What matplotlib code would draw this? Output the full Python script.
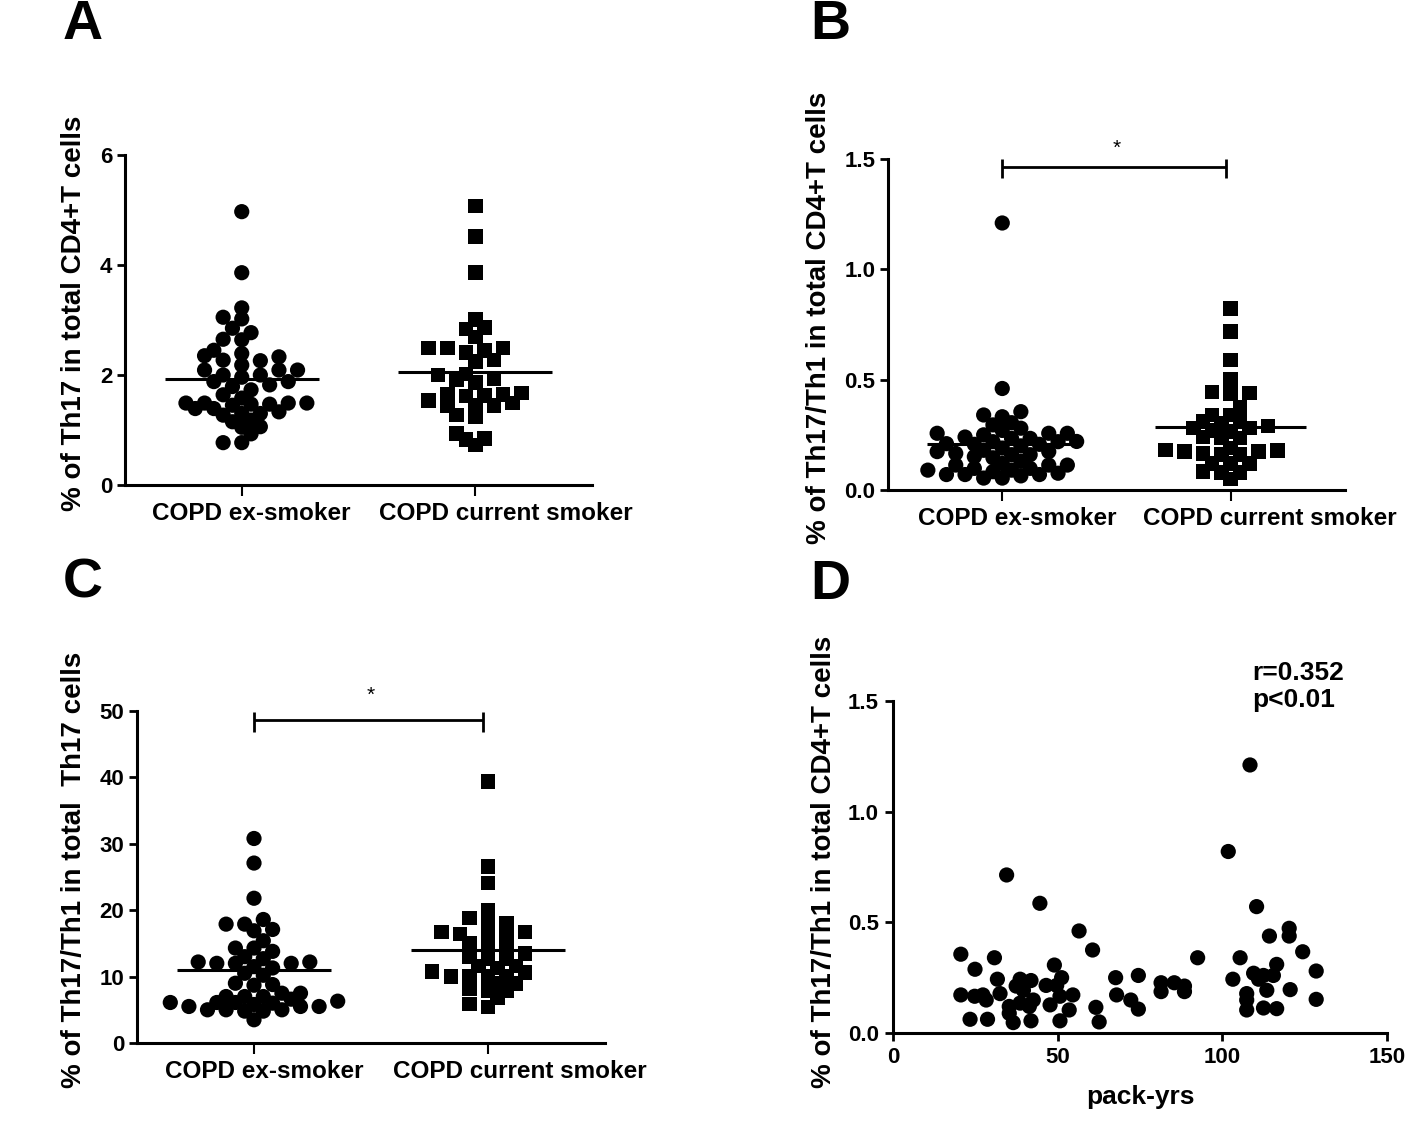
import numpy as np
import matplotlib
matplotlib.use("Agg")
from matplotlib import pyplot as plt

plt.rcParams['font.family'] = ['Liberation Sans', 'DejaVu Sans']
plt.rcParams['font.weight'] = 'bold'

groups = ["COPD ex-smoker", "COPD current smoker"]

# A: % of Th17 in total CD4+T cells
a_ex = [4.97, 3.86, 3.22, 3.05, 3.02, 2.85, 2.77, 2.64, 2.65, 2.45, 2.39, 2.33, 2.35,
        2.27, 2.26, 2.18, 2.09, 2.09, 2.09, 2.00, 2.00, 1.96, 1.88, 1.88, 1.82, 1.79,
        1.73, 1.64, 1.58, 1.49, 1.49, 1.47, 1.49, 1.47, 1.49, 1.45, 1.39, 1.39, 1.33,
        1.30, 1.27, 1.30, 1.18, 1.15, 1.06, 1.05, 0.93, 0.77, 0.77]
a_cur = [5.07, 4.52, 3.86, 3.01, 2.86, 2.84, 2.69, 2.49, 2.27, 2.49, 2.49, 2.41, 2.45,
         2.25, 2.00, 2.02, 1.94, 1.92, 1.86, 1.67, 1.45, 1.65, 1.62, 1.63, 1.45, 1.65,
         1.45, 1.49, 1.54, 1.27, 1.24, 0.94, 0.85, 0.83, 0.73]
a_center = [1.93, 2.06]

# B: % of Th17/Th1 in total CD4+T cells
b_ex = [1.21, 0.46, 0.355, 0.332, 0.34, 0.305, 0.295, 0.27, 0.28, 0.257, 0.25, 0.257,
        0.257, 0.234, 0.24, 0.234, 0.219, 0.219, 0.21, 0.207, 0.207, 0.174, 0.18, 0.174,
        0.166, 0.16, 0.16, 0.151, 0.146, 0.12, 0.113, 0.113, 0.113, 0.098, 0.09, 0.098,
        0.09, 0.083, 0.076, 0.07, 0.07, 0.07, 0.064, 0.054, 0.054, 0.19, 0.13, 0.20, 0.22]
b_cur = [0.823, 0.717, 0.589, 0.445, 0.438, 0.50, 0.44, 0.377, 0.34, 0.34, 0.302, 0.31,
         0.31, 0.29, 0.28, 0.28, 0.27, 0.265, 0.24, 0.235, 0.235, 0.181, 0.19, 0.18,
         0.175, 0.175, 0.16, 0.165, 0.16, 0.12, 0.08, 0.08, 0.085, 0.05, 0.12, 0.12]
b_center = [0.207, 0.285]

# C: % of Th17/Th1 in total Th17 cells
c_ex = [30.8, 27.1, 21.8, 18.6, 17.9, 17.9, 16.9, 17.1, 15.4, 14.3, 14.3, 13.8, 13.0,
        12.7, 12.2, 12.0, 12.2, 12.0, 12.0, 11.5, 11.3, 10.5, 10.2, 9.0, 8.7, 8.8, 7.5,
        7.5, 7.0, 7.0, 7.0, 6.6, 6.3, 6.1, 6.1, 6.1, 5.5, 5.5, 5.5, 5.0, 5.0, 5.0, 4.8,
        4.8, 3.5, 6.0, 5.8]
c_cur = [39.4, 26.6, 24.1, 20.0, 18.8, 18.0, 18.1, 16.7, 16.4, 16.4, 16.3, 16.7, 15.0,
         14.7, 14.4, 13.5, 13.0, 12.7, 12.7, 11.6, 11.6, 11.3, 10.6, 10.8, 10.0, 10.0,
         10.0, 10.0, 9.0, 9.0, 8.2, 7.8, 7.8, 6.8, 5.9, 5.4]
c_center = [11.0, 14.0]

# D: Th17/Th1 vs pack-years
d_pack = [108.4, 101.8, 34.5, 44.6, 110.4, 56.5, 120.3, 120.3, 114.3, 60.6, 124.4, 20.6,
          30.8, 92.5, 105.4, 24.9, 49.0, 116.5, 128.5, 31.7, 38.6, 41.9, 51.2, 67.6,
          74.5, 103.2, 109.5, 112.5, 115.5, 111.0, 81.4, 85.4, 88.5, 46.5, 37.4, 49.7,
          81.4, 88.5, 20.6, 24.8, 27.3, 28.3, 32.5, 39.6, 54.6, 50.7, 67.9, 107.4,
          113.5, 120.6, 128.5, 72.2, 42.6, 47.7, 53.5, 61.6, 74.5, 107.4, 107.4, 112.5,
          116.5, 35.3, 35.3, 23.4, 28.7, 36.5, 41.9, 50.7, 62.6, 41.4, 38.6]
d_ratio = [1.211, 0.82, 0.714, 0.586, 0.571, 0.461, 0.473, 0.438, 0.438, 0.375, 0.367,
           0.356, 0.34, 0.34, 0.34, 0.288, 0.307, 0.31, 0.28, 0.243, 0.243, 0.237, 0.25,
           0.25, 0.26, 0.243, 0.27, 0.26, 0.26, 0.243, 0.227, 0.227, 0.212, 0.215, 0.212,
           0.215, 0.187, 0.187, 0.172, 0.166, 0.172, 0.149, 0.178, 0.193, 0.172, 0.166,
           0.172, 0.178, 0.193, 0.196, 0.152, 0.149, 0.149, 0.127, 0.104, 0.116, 0.108,
           0.149, 0.104, 0.113, 0.11, 0.089, 0.12, 0.062, 0.062, 0.047, 0.055, 0.055,
           0.05, 0.12, 0.135]


def swarm(values, ylim, h_px, px_per_x, step=9.3):
    # column-scatter layout: half-symbol columns, points may touch diagonally
    vals = np.asarray(values, float)
    ypx = (vals - ylim[0]) / (ylim[1] - ylim[0]) * h_px
    cands = [0.0]
    for k in range(1, 40):
        cands += [k * step, -k * step]
    placed = []
    offs = np.zeros(len(vals))
    flip = 1

    def blocked(c, y):
        for px, py in placed:
            dx = abs(c - px)
            if dx < 17 and abs(y - py) < 10.5 - 0.55 * dx:
                return True
        return False

    for i in np.argsort(ypx):
        for c in cands:
            c = c * flip
            if not blocked(c, ypx[i]):
                break
        flip = -flip
        placed.append((c, ypx[i]))
        offs[i] = c / px_per_x
    return offs


W, H = 1418, 1121
fig = plt.figure(figsize=(W / 100, H / 100), dpi=100)


def column_panel(rect, ex, cur, center, ylim, yticks, ytlabels, ylabel, lab_xy,
                 lab_shift, bracket=None):
    ax = fig.add_axes(rect)
    h_px = rect[3] * H
    px_per_x = rect[2] * W / 2.0
    for pos, vals, mk, sz in [(1, ex, 'o', 120), (2, cur, 's', 110)]:
        offs = swarm(vals, ylim, h_px, px_per_x)
        ax.scatter(pos + offs, vals, marker=mk, s=sz, color='black', edgecolors='none',
                   clip_on=False, zorder=3)
    for pos, c in zip([1, 2], center):
        ax.hlines(c, pos - 0.33, pos + 0.33, color='black', lw=2.2, zorder=4)
    ax.set_xlim(0.5, 2.5)
    ax.set_ylim(*ylim)
    ax.set_xticks([1, 2])
    ax.set_xticklabels([])
    # category names sit a little right of their ticks in the original
    for pos, name, dx in zip([1, 2], groups, lab_shift):
        ax.annotate(name, xy=(pos, 0), xycoords=('data', 'axes fraction'),
                    xytext=(dx * 0.72, -20.5), textcoords='offset points',
                    ha='center', va='center', fontsize=17.5, fontweight='bold')
    ax.set_yticks(yticks)
    ax.set_yticklabels(ytlabels, fontsize=16, fontweight='bold')
    ax.tick_params(axis='x', length=8, width=1.5, pad=4)
    ax.tick_params(axis='y', length=6, width=2, pad=3)
    for s in ['top', 'right']:
        ax.spines[s].set_visible(False)
    for s in ['left', 'bottom']:
        ax.spines[s].set_linewidth(2.2)
    ax.set_ylabel(ylabel, fontsize=20, fontweight='bold')
    ax.yaxis.set_label_coords(*lab_xy)
    if bracket is not None:
        yb, cap, star = bracket
        ax.hlines(yb, 1, 1.98, color='black', lw=2, clip_on=False)
        ax.vlines([1, 1.98], yb - cap, yb + cap * 0.7, color='black', lw=2, clip_on=False)
        ax.text(1.5, star, '*', ha='center', va='center', fontsize=15, fontweight='normal')
    return ax


column_panel([125 / W, 1 - 485 / H, 467 / W, 330 / H], a_ex, a_cur, a_center,
             (0, 6), [0, 2, 4, 6], ['0', '2', '4', '6'],
             '% of Th17 in total CD4+T cells', (-0.081, 0.52), (9, 31))

column_panel([888 / W, 1 - 490 / H, 457 / W, 331 / H], b_ex, b_cur, b_center,
             (0, 1.5), [0, 0.5, 1.0, 1.5], ['0.0', '0.5', '1.0', '1.5'],
             '% of Th17/Th1 in total CD4+T cells', (-0.123, 0.52), (15, 39),
             bracket=(1.464, 0.05, 1.55))

column_panel([137 / W, 1 - 1043 / H, 468 / W, 332 / H], c_ex, c_cur, c_center,
             (0, 50), [0, 10, 20, 30, 40, 50], ['0', '10', '20', '30', '40', '50'],
             '% of Th17/Th1 in total  Th17 cells', (-0.107, 0.52), (10, 32),
             bracket=(48.6, 1.8, 52.3))

# D: scatter vs pack-years
axd = fig.add_axes([893 / W, 1 - 1033 / H, 494 / W, 332 / H])
axd.scatter(d_pack, d_ratio, marker='o', s=120, color='black', edgecolors='none',
            clip_on=False, zorder=3)
axd.set_xlim(0, 150)
axd.set_ylim(0, 1.5)
axd.set_xticks([0, 50, 100, 150])
axd.set_xticklabels(['0', '50', '100', '150'], fontsize=16, fontweight='bold')
axd.set_yticks([0, 0.5, 1.0, 1.5])
axd.set_yticklabels(['0.0', '0.5', '1.0', '1.5'], fontsize=16, fontweight='bold')
axd.tick_params(axis='both', length=6, width=2, pad=4)
for s in ['top', 'right']:
    axd.spines[s].set_visible(False)
for s in ['left', 'bottom']:
    axd.spines[s].set_linewidth(2.2)
axd.set_xlabel('pack-yrs', fontsize=19, fontweight='bold', labelpad=12)
axd.set_ylabel('% of Th17/Th1 in total CD4+T cells', fontsize=20, fontweight='bold')
axd.yaxis.set_label_coords(-0.113, 0.515)
axd.text(109, 1.565, 'r=0.352\np<0.01', ha='left', va='center', fontsize=19,
         fontweight='bold', linespacing=1.15, clip_on=False)

for letter, x, y in [('A', 83, 25), ('B', 830, 25), ('C', 83, 583), ('D', 830, 585)]:
    fig.text(x / W, 1 - y / H, letter, fontsize=40, fontweight='bold',
             ha='center', va='center')

fig.savefig('out.png', dpi=100)
